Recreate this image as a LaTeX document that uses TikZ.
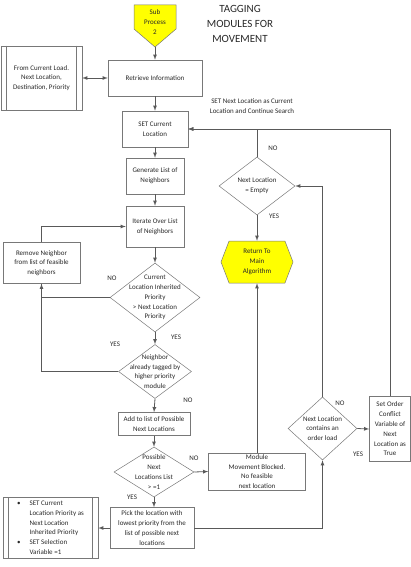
\documentclass[tikz,border=0pt]{standalone}
\usepackage{fontspec}
\setmainfont{Carlito}
\usetikzlibrary{positioning}
\usetikzlibrary{calc}
\usetikzlibrary{arrows,shapes}

\definecolor{linegray}{RGB}{89,89,89}
\definecolor{boxgray}{RGB}{120,120,120}
\definecolor{textgray}{RGB}{40,40,40}
\definecolor{flowyellow}{RGB}{255,255,0}

\begin{document}
\begin{tikzpicture}[x=1pt,y=-1pt]
\tikzstyle{process} =[rectangle,draw=boxgray,line width=0.5pt,align=center,inner sep=1pt,text=textgray,font=\fontsize{7}{9.8}\selectfont]
\tikzstyle{decision} =[diamond,draw=boxgray,line width=0.5pt,align=center,inner sep=-30pt,text=textgray,font=\fontsize{7}{9.8}\selectfont]
\tikzstyle{terminal} =[signal,signal to=west and east,signal pointer angle=138,draw=boxgray,fill=flowyellow,line width=0.5pt,align=center,inner sep=0pt,text=textgray,font=\fontsize{7}{9.8}\selectfont]
\tikzstyle{lbl} =[text=textgray,font=\fontsize{7}{9.8}\selectfont,align=center,inner sep=0pt]
\tikzstyle{line} =[draw=linegray,line width=0.8pt]
\useasboundingbox (0,0) rectangle (411,567);

% entry point and title
\draw[draw=boxgray,line width=0.5pt,fill=flowyellow] (134,5) -- (176,5) -- (176,29) -- (155,47) -- (134,29) -- cycle;
\node[lbl](sub) at (155,22){Sub\\Process\\2};
\coordinate (subtip) at (155,47);
\node[lbl,font=\fontsize{11}{15}\selectfont](title) at (240,24){TAGGING\\MODULES FOR\\MOVEMENT};

\node[process,minimum width=94,minimum height=36](retrieve) at (155,78){Retrieve Information};
\node[process,minimum width=81,minimum height=64](from) at (41.5,78){From Current Load.\\Next Location,\\Destination, Priority};
\draw[draw=boxgray,line width=0.5pt] ([xshift=5]from.north west)--([xshift=5]from.south west);
\draw[draw=boxgray,line width=0.5pt] ([xshift=-6]from.north east)--([xshift=-6]from.south east);
\draw[line,latex-latex] (from.east)--(retrieve.west);
\draw[line,-latex] (subtip)--(retrieve.north);

\node[process,minimum width=66,minimum height=36](setcur) at (155,129){SET Current\\Location};
\draw[line,-latex] (retrieve.south)--(setcur.north);
\node[lbl](continue) at (252,106){SET Next Location as Current\\Location and Continue Search};

\node[process,minimum width=58,minimum height=36](gen) at (155,176){Generate List of\\Neighbors};
\draw[line,-latex] (setcur.south)--(gen.north);

\node[process,minimum width=58,minimum height=41](iter) at (155,226.5){Iterate Over List\\of Neighbors};
\draw[line,-latex] (gen.south)--(iter.north);

\node[process,minimum width=77,minimum height=41](remove) at (41.5,263){Remove Neighbor\\from list of feasible\\neighbors};
\draw[line,-latex] (remove.north) |- (iter.west);

\node[decision,minimum width=90,minimum height=69](prio) at (155,297.5){Current\\Location Inherited\\Priority\\> Next Location\\Priority};
\draw[line,-latex] (iter.south)--(prio.north);
\draw[line,-latex] (prio.west) -| (remove.south);
\node[lbl](prioNo) at (112,278){NO};
\node[lbl](prioYes) at (176,337){YES};

\node[decision,minimum width=73,minimum height=54](tagged) at (155,371.5){Neighbor\\already tagged by\\higher priority\\module};
\draw[line,-latex] (prio.south)--(tagged.north);
\draw[line] (tagged.west) -| (remove.south);
\node[lbl](taggedYes) at (115,344){YES};
\node[lbl](taggedNo) at (188,400){NO};

\node[process,minimum width=72,minimum height=23](add) at (154,424){Add to list of Possible\\Next Locations};
\draw[line,-latex] (tagged.south)--(add.north);

\node[decision,minimum width=80,minimum height=50](poss) at (154,472){Possible\\Next\\Locations List\\> =1};
\draw[line,-latex] (add.south)--(poss.north);
\node[lbl](possNo) at (194,458){NO};
\node[lbl](possYes) at (132,497){YES};

\node[process,minimum width=97,minimum height=37](blocked) at (257,471.5){Module\\Movement Blocked.\\No feasible\\next location};
\draw[line,-latex] (poss.east)--(blocked.west);

\node[process,minimum width=84,minimum height=41](pick) at (152,528){Pick the location with\\lowest priority from the\\list of possible next\\locations};
\draw[line,-latex] (poss.south)--(poss.south |- pick.north);

\node[process,minimum width=95,minimum height=60](select) at (50.5,528){\begin{tabular}{@{}l@{\hspace{9pt}}l@{}}
\textbullet & SET Current\\
 & Location Priority as\\
 & Next Location\\
 & Inherited Priority\\
\textbullet & SET Selection\\
 & Variable =1
\end{tabular}};
\draw[draw=boxgray,line width=0.5pt] ([xshift=5]select.north west)--([xshift=5]select.south west);
\draw[draw=boxgray,line width=0.5pt] ([xshift=-6]select.north east)--([xshift=-6]select.south east);
\draw[line,-latex] (pick.west)--(select.east);

\node[decision,minimum width=69,minimum height=63](order) at (322.5,428.5){Next Location\\contains an\\order load};
\draw[line,-latex] (pick.east) -| (order.south);
\node[lbl](orderNo) at (340,403){NO};
\node[lbl](orderYes) at (358,454){YES};

\node[process,minimum width=41,minimum height=65](conflict) at (390,429){Set Order\\Conflict\\Variable of\\Next\\Location as\\True};
\draw[line,-latex] (order.east)--(conflict.west);

\node[decision,minimum width=76,minimum height=58](empty) at (257,186){Next Location\\= Empty};
\draw[line,-latex] (order.north) |- (empty.east);
\node[lbl](emptyNo) at (273,148){NO};
\node[lbl](emptyYes) at (274,216){YES};

\node[terminal,minimum width=72,minimum height=42](ret) at (257,262){Return To\\Main\\Algorithm};
\draw[line,-latex] (empty.south)--(ret.north);
\draw[line,-latex] (blocked.north)--(ret.south);

\draw[line,-latex] (empty.north) |- (setcur.east);
\draw[line,-latex] (conflict.north) |- (setcur.east);
\end{tikzpicture}
\end{document}
